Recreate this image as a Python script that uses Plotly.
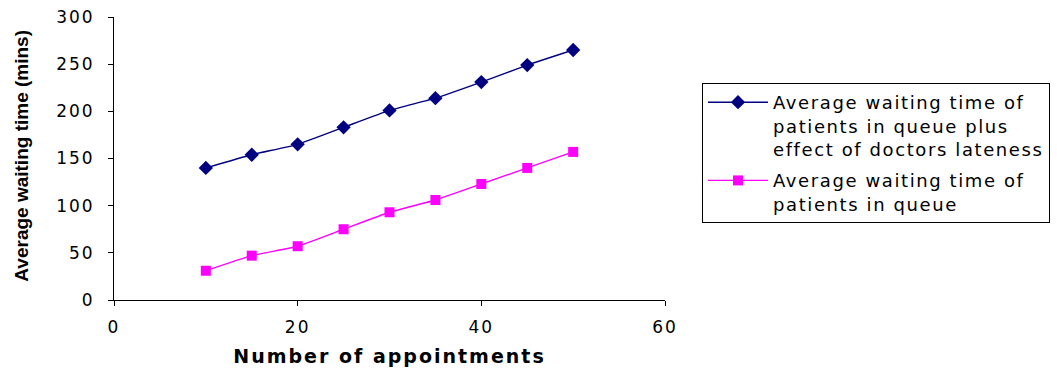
import plotly.graph_objects as go

appointments = [10, 15, 20, 25, 30, 35, 40, 45, 50]
wait_plus_lateness = [140, 154, 165, 183, 201, 214, 231, 249, 265]
wait_queue = [31, 47, 57, 75, 93, 106, 123, 140, 157]

name_a = "Average waiting time of<br>patients in queue plus<br>effect of doctors lateness"
name_b = "Average waiting time of<br>patients in queue"
x_ticks = [0, 20, 40, 60]
y_ticks = [0, 50, 100, 150, 200, 250, 300]
x_title = "Number of appointments"
y_title = "Average waiting time (mins)"


def sp(t, style):
    return f'<span style="{style}">{t}</span>'

LEG = "letter-spacing:1.6px"
TICK = "letter-spacing:2px"

fig = go.Figure()
fig.add_trace(go.Scatter(
    x=appointments, y=wait_plus_lateness, mode="lines+markers", legendgroup="a",
    name=sp(name_a, LEG), line=dict(color="#000080", width=1.4, shape="spline", smoothing=0.4),
    marker=dict(symbol="diamond", size=11, color="#000080"),
))
fig.add_trace(go.Scatter(
    x=appointments, y=wait_queue, mode="lines+markers", legendgroup="b",
    name=sp(name_b, LEG),
    line=dict(color="#FF00FF", width=1.4, shape="spline", smoothing=0.4),
    marker=dict(symbol="square", size=10, color="#FF00FF"),
))

tickfont = dict(family="DejaVu Sans", size=17, color="black")
fig.update_layout(
    width=1057, height=373,
    margin=dict(l=114, r=392, t=17, b=73, autoexpand=False),
    paper_bgcolor="white", plot_bgcolor="white",
    xaxis=dict(
        range=[0, 60], tickvals=x_ticks, ticktext=[sp(str(v), TICK) for v in x_ticks],
        showline=True, linecolor="black", linewidth=1, ticks="outside", ticklen=5,
        tickcolor="black", showgrid=False, zeroline=False, tickfont=tickfont,
        ticklabelstandoff=7,
        title=dict(text=sp(x_title, "letter-spacing:2px"),
                   font=dict(family="DejaVu Sans", size=19, color="black", weight="bold"), standoff=13),
    ),
    yaxis=dict(
        range=[0, 300], tickvals=y_ticks,
        ticktext=[sp(str(v), TICK) for v in y_ticks],
        showline=True, linecolor="black", linewidth=1, ticks="outside", ticklen=5,
        tickcolor="black", showgrid=False, zeroline=False, tickfont=tickfont,
        ticklabelposition="outside", ticklabelstandoff=10,
    ),
    annotations=[dict(
        text=y_title, xref="paper", yref="paper", x=-0.167, y=0.51,
        xanchor="center", yanchor="middle", textangle=-90, showarrow=False,
        font=dict(family="Liberation Sans", size=19, color="black", weight="bold"),
    )],
    legend=dict(
        xref="container", yref="container", x=702/1057, y=1 - 83/373,
        xanchor="left", yanchor="top", valign="top", itemwidth=60,
        bgcolor="white", bordercolor="black", borderwidth=1,
        font=dict(family="DejaVu Sans", size=18, color="black"),
        tracegroupgap=5,
    ),
    showlegend=True,
)

fig.write_html("out.html")
